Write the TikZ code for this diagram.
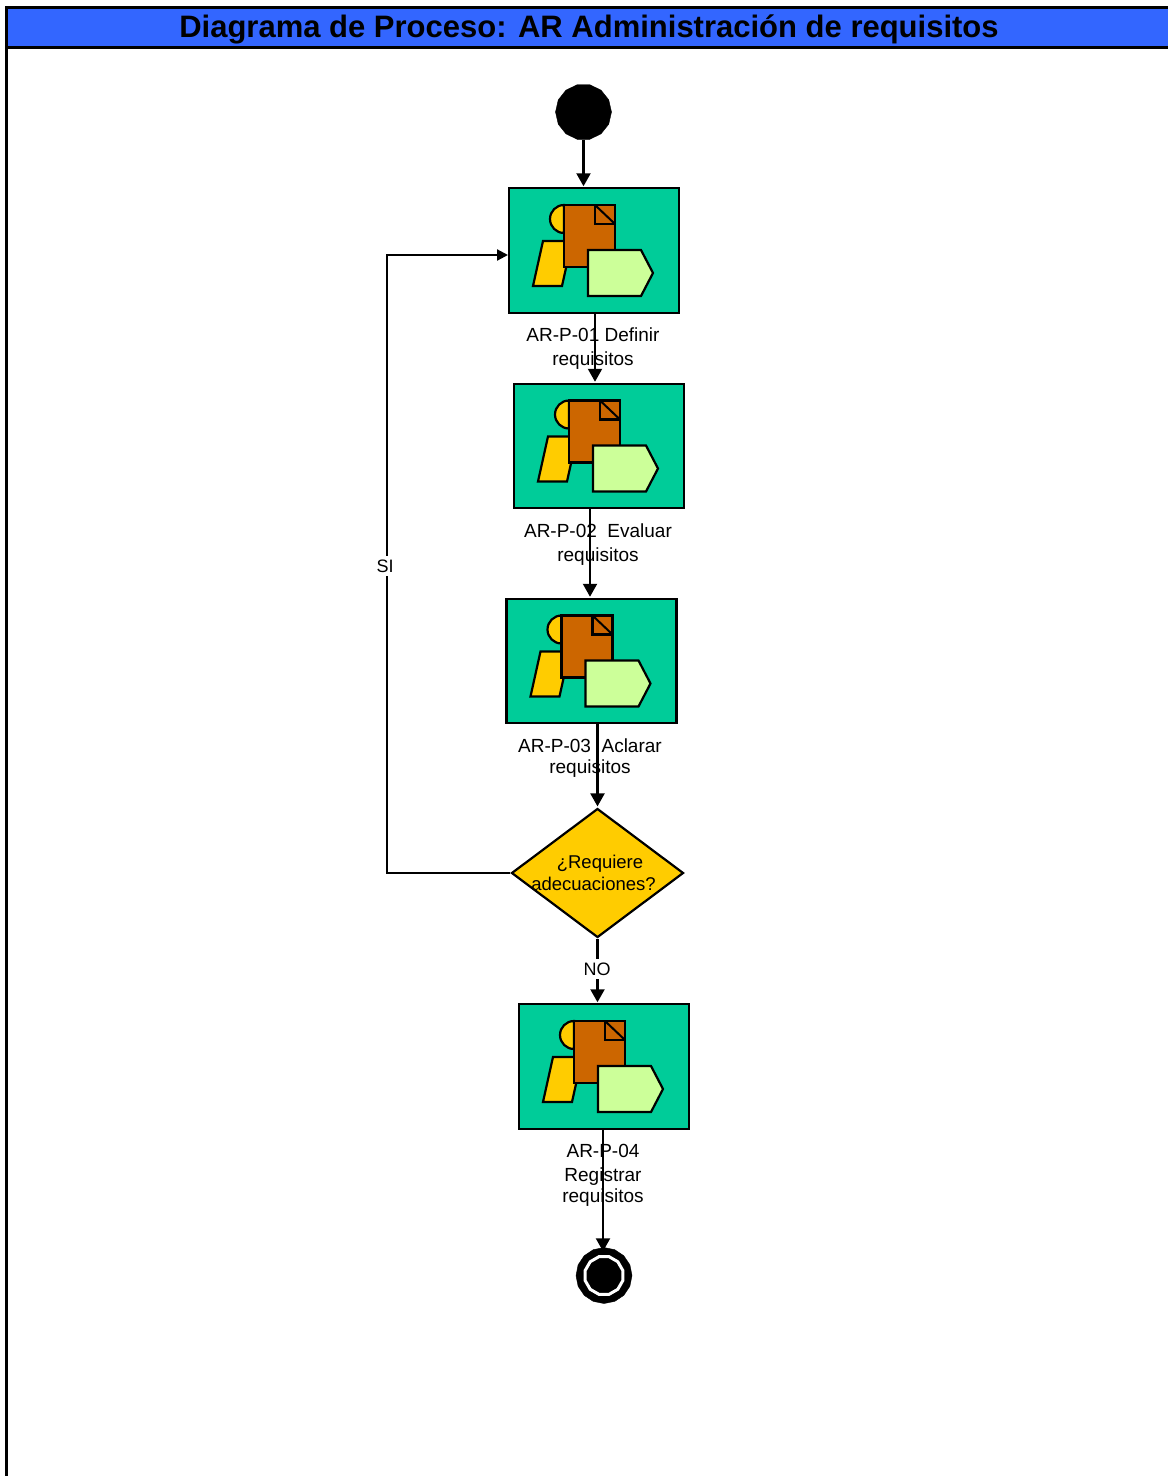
\documentclass[tikz,border=0pt]{standalone}
\usepackage{fontspec}
\setmainfont{Liberation Sans}
\usetikzlibrary{calc}
\usetikzlibrary{arrows.meta}
\usetikzlibrary{shapes.geometric}
\definecolor{azul}{HTML}{3366FF}
\definecolor{verde}{HTML}{00CC99}
\definecolor{amarillo}{HTML}{FFCC00}
\definecolor{cafe}{HTML}{CC6600}
\definecolor{lima}{HTML}{CCFF99}
\tikzset{
    actividad/.style={draw, line width=2.2pt, fill=verde, minimum width=170pt, minimum height=124.5pt, inner sep=0pt, outer sep=1pt},
    etiqueta/.style={align=center, font=\fontsize{19}{21}\selectfont, inner sep=0pt},
    rama/.style={fill=white, font=\fontsize{18}{21}\selectfont, inner xsep=0pt, inner ysep=4pt},
    flujo/.style={line width=2.2pt, -{Triangle[length=13pt,width=14pt]}, shorten >=1pt},
    icono/.pic={
        \draw[line width=2.2pt, fill=amarillo] (34,53) -- (63,53) -- (53,98) -- (24,98) -- cycle;
        \draw[line width=2.2pt, fill=amarillo] (55,17) arc[start angle=90, end angle=270, radius=14pt] -- cycle;
        \draw[line width=2.2pt, fill=cafe] (55,17) rectangle (106,79);
        \draw[line width=2.2pt] (86,17) rectangle (106,36);
        \draw[line width=2pt] (86,17) -- (106,36);
        \draw[line width=2.2pt, fill=lima] (79,62) -- (132,62) -- (144,85) -- (132,108) -- (79,108) -- cycle;
    }
}
\begin{document}
\begin{tikzpicture}[x=1pt, y=-1pt]
    \useasboundingbox (0,0) rectangle (1168,1476);

    % Encabezado
    \fill[azul] (6,7) rectangle (1168,47);
    \draw[line width=3pt] (6,1476) -- (6,7) -- (1168,7);
    \draw[line width=3pt] (6,47) -- (1168,47);
    \node[font=\fontsize{31}{34}\selectfont\bfseries, inner sep=0pt] (titulo) at (589,29) {Diagrama de Proceso: AR Administración de requisitos};

    % Inicio y fin
    \node[regular polygon, regular polygon sides=14, fill=black, draw, inner sep=0pt, minimum size=56pt] (inicio) at (583.5,112) {};
    \node[regular polygon, regular polygon sides=16, shape border rotate=11.25, fill=black, draw, inner sep=0pt, minimum size=56pt] (fin) at (604,1275.5) {};
    \node[regular polygon, regular polygon sides=12, fill=black, draw=white, line width=3pt, inner sep=0pt, minimum size=39pt] (finb) at (604,1275.5) {};

    % Actividades
    \foreach \nombre/\px/\py in {act1/594/250.5, act2/599/446, act3/591.5/661, act4/604/1066.5} {
        \node[actividad] (\nombre) at (\px,\py) {};
        \pic at ($(\nombre.center)+(-85,-62.5)$) {icono};
    }

    % Decision
    \node[diamond, draw, line width=2.2pt, fill=amarillo, aspect=1.33, inner sep=0pt, minimum width=172pt, minimum height=129pt] (dec) at (597.5,873) {};
    \node[etiqueta, font=\fontsize{18.5}{21}\selectfont] (dectxt) at (593.5,873) {\hspace*{13pt}¿Requiere\\[0.5pt]adecuaciones?};

    % Textos de actividades
    \node[etiqueta] (lbl1) at (593,349) {AR-P-01  Definir\\[3pt]requisitos};
    \node[etiqueta] (lbl2) at (598,545) {AR-P-02\ \ Evaluar\\[3pt]requisitos};
    \node[etiqueta] (lbl3) at (590,758) {AR-P-03\ \ Aclarar\\requisitos};
    \node[etiqueta] (lbl4) at (603,1175) {AR-P-04\\[3pt]Registrar\\requisitos};

    % Conectores
    \coordinate (esq1) at (387,873);
    \coordinate (esq2) at (387,255);
    \draw[flujo] (inicio) -- (inicio |- act1.north);
    \draw[flujo] ([xshift=1pt]act1.south) -- ([xshift=1pt]act1.south |- act2.north);
    \draw[flujo] ([xshift=-1.5pt]act3.north |- act2.south) -- ([xshift=-1.5pt]act3.north);
    \draw[flujo] (dec.north |- act3.south) -- (dec.north);
    \draw[flujo] (dec.south) -- (dec.south |- act4.north);
    \draw[flujo, shorten >=-4pt] ([xshift=-1pt]act4.south) -- ([xshift=-1pt]fin.north);
    \draw[line width=2.2pt, -{Triangle[length=11pt,width=11pt]}] (dec.west) -- (esq1) -- (esq2) -- (esq2 -| act1.west);

    % Etiquetas de rama
    \node[rama] (si) at (385,566) {SI};
    \node[rama] (no) at (597,969) {NO};
\end{tikzpicture}
\end{document}
